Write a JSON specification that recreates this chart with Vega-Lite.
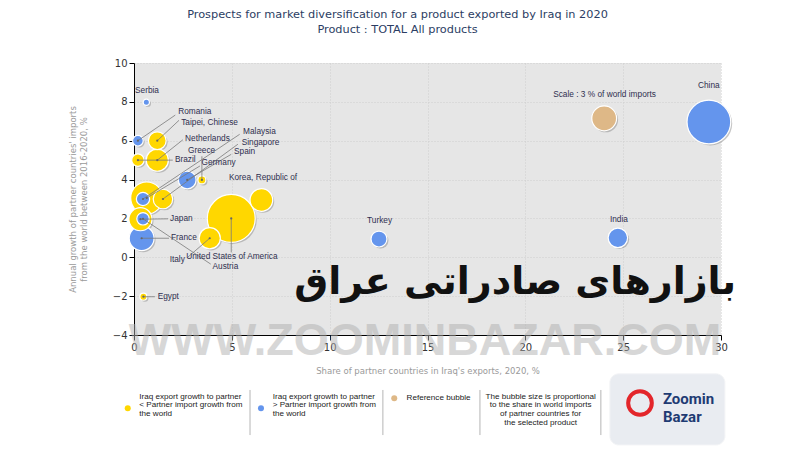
{
  "$schema": "https://vega.github.io/schema/vega-lite/v6.json",
  "autosize": {"type": "none"},
  "padding": {"left": 134, "top": 63, "right": 79, "bottom": 115},
  "width": 587,
  "height": 272,
  "background": "white",
  "title": {
    "text": "Prospects for market diversification for a product exported by Iraq in 2020",
    "subtitle": "Product : TOTAL All products",
    "anchor": "middle",
    "dx": -30,
    "offset": 23,
    "font": "DejaVu Sans",
    "fontSize": 11.3,
    "fontWeight": "normal",
    "color": "#2b3d63",
    "subtitleFont": "DejaVu Sans",
    "subtitleFontSize": 11.3,
    "subtitleColor": "#2b3d63",
    "subtitlePadding": 3
  },
  "datasets": {
    "bubbles": [
      {"name": "China", "x": 29.38, "y": 6.96, "share": 9.3, "grp": "higher", "tx": 28.77, "ty": 8.82},
      {"name": "United States of America", "x": 4.97, "y": 2.0, "share": 11.2, "grp": "lower", "lx": 4.97, "ly": 0.25, "tx": 2.62, "ty": 0.03},
      {"name": "Germany", "x": 0.65, "y": 3.05, "share": 5.0, "grp": "lower", "lx": 3.37, "ly": 4.7, "tx": 3.4, "ty": 4.84},
      {"name": "Japan", "x": 0.33, "y": 1.96, "share": 2.6, "grp": "lower", "lx": 1.74, "ly": 1.98, "tx": 1.79, "ty": 1.98},
      {"name": "France", "x": 0.39, "y": 0.98, "share": 3.0, "grp": "higher", "lx": 1.79, "ly": 0.98, "tx": 1.84, "ty": 0.98},
      {"name": "Netherlands", "x": 1.19, "y": 5.0, "share": 2.4, "grp": "lower", "lx": 2.5, "ly": 6.05, "tx": 2.56, "ty": 6.07},
      {"name": "Korea, Republic of", "x": 6.51, "y": 2.95, "share": 2.5, "grp": "lower", "tx": 4.8, "ty": 4.08},
      {"name": "Italy", "x": 3.87, "y": 0.98, "share": 2.2, "grp": "lower", "lx": 2.72, "ly": -0.02, "tx": 1.77, "ty": -0.12},
      {"name": "India", "x": 24.73, "y": 1.0, "share": 1.85, "grp": "higher", "tx": 24.27, "ty": 1.92},
      {"name": "Singapore", "x": 1.48, "y": 3.0, "share": 1.85, "grp": "lower", "lx": 5.31, "ly": 5.82, "tx": 5.45, "ty": 5.87},
      {"name": "Spain", "x": 2.72, "y": 3.98, "share": 1.53, "grp": "higher", "lx": 4.97, "ly": 5.3, "tx": 5.06, "ty": 5.4},
      {"name": "Taipei, Chinese", "x": 1.19, "y": 6.0, "share": 1.53, "grp": "lower", "lx": 2.3, "ly": 7.05, "tx": 2.36, "ty": 6.93},
      {"name": "Turkey", "x": 12.52, "y": 0.94, "share": 1.24, "grp": "higher", "tx": 11.86, "ty": 1.87},
      {"name": "Malaysia", "x": 0.46, "y": 3.0, "share": 0.86, "grp": "higher", "lx": 5.4, "ly": 6.33, "tx": 5.52, "ty": 6.46},
      {"name": "Austria", "x": 0.46, "y": 1.98, "share": 0.75, "grp": "higher", "lx": 3.92, "ly": -0.35, "tx": 3.96, "ty": -0.48},
      {"name": "Brazil", "x": 0.2, "y": 5.0, "share": 0.75, "grp": "lower", "lx": 1.98, "ly": 5.0, "tx": 2.04, "ty": 5.0},
      {"name": "Romania", "x": 0.2, "y": 6.0, "share": 0.55, "grp": "higher", "lx": 2.11, "ly": 7.32, "tx": 2.21, "ty": 7.49},
      {"name": "Greece", "x": 3.47, "y": 3.98, "share": 0.31, "grp": "lower", "lx": 3.47, "ly": 5.2, "tx": 2.71, "ty": 5.47},
      {"name": "Egypt", "x": 0.48, "y": -2.03, "share": 0.24, "grp": "lower", "lx": 1.07, "ly": -2.03, "tx": 1.16, "ty": -2.03},
      {"name": "Serbia", "x": 0.63, "y": 7.98, "share": 0.19, "grp": "higher", "tx": 0.0, "ty": 8.56},
      {"name": "Scale : 3 % of world imports", "x": 24.03, "y": 7.15, "share": 3.0, "grp": "ref", "tx": 21.37, "ty": 8.35}
    ],
    "legendsym": [
      {"grp": "lower", "x": -0.32, "y": -7.77},
      {"grp": "higher", "x": 6.49, "y": -7.77},
      {"grp": "ref", "x": 13.3, "y": -7.26}
    ],
    "legendtext": [
      {"t": "Iraq export growth to partner\n< Partner import growth from\nthe world", "x": 0.27, "y": -6.98, "pos": "left"},
      {"t": "Iraq export growth to partner\n> Partner import growth from\nthe world", "x": 7.09, "y": -6.98, "pos": "left"},
      {"t": "Reference bubble", "x": 13.93, "y": -7.03, "pos": "left"},
      {"t": "The bubble size is proportional\nto the share in world imports\nof partner countries for\nthe selected product", "x": 20.78, "y": -6.98, "pos": "center"}
    ],
    "seps": [
      {"x": 5.93, "y": -6.83, "y2": -9.15},
      {"x": 12.72, "y": -6.83, "y2": -9.15},
      {"x": 17.68, "y": -6.83, "y2": -9.15},
      {"x": 23.86, "y": -6.83, "y2": -9.15}
    ],
    "logo": [{"x": 24.32, "x2": 30.2, "y": -6.0, "y2": -9.66}],
    "ring": [{"x": 25.86, "y": -7.5}],
    "logotext": [
      {"t": "Zoomin", "x": 27.03, "y": -7.3},
      {"t": "Bazar", "x": 27.03, "y": -8.2}
    ],
    "watermark": [{"t": "WWW.ZOOMINBAZAR.COM", "x": 14.87, "y": -4.31}],
    "persian": [{"t": "بازارهای صادراتی عراق", "x": 19.48, "y": -1.32}]
  },
  "layer": [
    {
      "data": {"name": "bubbles"},
      "mark": {"type": "circle", "color": "#808080", "opacity": 0.45, "xOffset": 1.5, "yOffset": 1.5},
      "encoding": {
        "x": {"field": "x", "type": "quantitative", "scale": {"domain": [0, 30], "nice": false, "zero": false},
              "axis": {"values": [0, 5, 10, 15, 20, 25, 30], "title": "Share of partner countries in Iraq's exports, 2020, %", "titlePadding": 14, "labelPadding": 2, "labelOverlap": false}},
        "y": {"field": "y", "type": "quantitative", "scale": {"domain": [-4, 10], "nice": false, "zero": false},
              "axis": {"values": [-4, -2, 0, 2, 4, 6, 8, 10], "tickCount": 8, "title": ["Annual growth of partner countries' imports", "from the world between 2016-2020, %"], "titlePadding": 24, "labelPadding": 2, "labelOverlap": false, "labelFlush": false, "labelSeparation": -20, "labelBaseline": "middle"}},
        "size": {"field": "share", "type": "quantitative", "scale": {"domain": [0, 10], "range": [0, 2053]}, "legend": null},
        "order": {"field": "share", "sort": "descending"}
      }
    },
    {
      "data": {"name": "bubbles"},
      "mark": {"type": "circle", "opacity": 1, "stroke": "white", "strokeWidth": 1.2},
      "encoding": {
        "x": {"field": "x", "type": "quantitative"},
        "y": {"field": "y", "type": "quantitative"},
        "size": {"field": "share", "type": "quantitative", "scale": {"domain": [0, 10], "range": [0, 2053]}, "legend": null},
        "order": {"field": "share", "sort": "descending"},
        "color": {
          "field": "grp", "type": "nominal",
          "scale": {"domain": ["lower", "higher", "ref"], "range": ["#FFD700", "#6495ED", "#DEB887"]},
          "legend": null
        }
      }
    },
    {
      "data": {"name": "bubbles"},
      "transform": [{"filter": "isValid(datum.lx)"}],
      "mark": {"type": "rule", "color": "#7a7a7a", "strokeWidth": 0.8},
      "encoding": {
        "x": {"field": "x", "type": "quantitative"},
        "y": {"field": "y", "type": "quantitative"},
        "x2": {"field": "lx"},
        "y2": {"field": "ly"}
      }
    },
    {
      "data": {"name": "bubbles"},
      "transform": [{"filter": "isValid(datum.lx)"}],
      "mark": {"type": "circle", "color": "#666666", "size": 5, "opacity": 1},
      "encoding": {
        "x": {"field": "x", "type": "quantitative"},
        "y": {"field": "y", "type": "quantitative"}
      }
    },
    {
      "data": {"name": "bubbles"},
      "mark": {"type": "text", "align": "left", "baseline": "middle", "dx": 1, "font": "Liberation Sans", "fontSize": 8.3, "color": "#2f2f4f"},
      "encoding": {
        "x": {"field": "tx", "type": "quantitative"},
        "y": {"field": "ty", "type": "quantitative"},
        "text": {"field": "name"}
      }
    },
    {
      "data": {"name": "watermark"},
      "mark": {"type": "text", "align": "center", "baseline": "middle", "font": "Liberation Sans", "fontWeight": "bold", "fontSize": 45, "color": "#b0b0b0", "opacity": 0.5},
      "encoding": {
        "x": {"field": "x", "type": "quantitative"},
        "y": {"field": "y", "type": "quantitative"},
        "text": {"field": "t"}
      }
    },
    {
      "data": {"name": "legendsym"},
      "mark": {"type": "circle", "size": 36, "opacity": 1},
      "encoding": {
        "x": {"field": "x", "type": "quantitative"},
        "y": {"field": "y", "type": "quantitative"},
        "color": {"field": "grp", "type": "nominal", "legend": null}
      }
    },
    {
      "data": {"name": "legendtext"},
      "transform": [{"filter": "datum.pos == 'left'"}],
      "mark": {"type": "text", "align": "left", "baseline": "top", "lineBreak": "\n", "lineHeight": 8.6, "font": "Liberation Sans", "fontSize": 8.1, "color": "#222222"},
      "encoding": {
        "x": {"field": "x", "type": "quantitative"},
        "y": {"field": "y", "type": "quantitative"},
        "text": {"field": "t"}
      }
    },
    {
      "data": {"name": "legendtext"},
      "transform": [{"filter": "datum.pos == 'center'"}],
      "mark": {"type": "text", "align": "center", "baseline": "top", "lineBreak": "\n", "lineHeight": 8.6, "font": "Liberation Sans", "fontSize": 8.1, "color": "#222222"},
      "encoding": {
        "x": {"field": "x", "type": "quantitative"},
        "y": {"field": "y", "type": "quantitative"},
        "text": {"field": "t"}
      }
    },
    {
      "data": {"name": "seps"},
      "mark": {"type": "rule", "color": "#b5b5b5", "strokeWidth": 1},
      "encoding": {
        "x": {"field": "x", "type": "quantitative"},
        "y": {"field": "y", "type": "quantitative"},
        "y2": {"field": "y2"}
      }
    },
    {
      "data": {"name": "logo"},
      "mark": {"type": "rect", "fill": "#e9ecf1", "cornerRadius": 9, "stroke": "#f3f4f6", "strokeWidth": 1},
      "encoding": {
        "x": {"field": "x", "type": "quantitative"},
        "x2": {"field": "x2"},
        "y": {"field": "y", "type": "quantitative"},
        "y2": {"field": "y2"}
      }
    },
    {
      "data": {"name": "ring"},
      "mark": {"type": "point", "shape": "circle", "filled": false, "stroke": "#e3262b", "strokeWidth": 4, "size": 560, "opacity": 1},
      "encoding": {
        "x": {"field": "x", "type": "quantitative"},
        "y": {"field": "y", "type": "quantitative"}
      }
    },
    {
      "data": {"name": "logotext"},
      "mark": {"type": "text", "align": "left", "baseline": "middle", "font": "Roboto", "fontWeight": "bold", "fontSize": 15, "color": "#1f3b73"},
      "encoding": {
        "x": {"field": "x", "type": "quantitative"},
        "y": {"field": "y", "type": "quantitative"},
        "text": {"field": "t"}
      }
    },
    {
      "data": {"name": "persian"},
      "mark": {"type": "text", "align": "center", "baseline": "middle", "font": "DejaVu Sans", "fontWeight": "bold", "fontSize": 38, "color": "#111111"},
      "encoding": {
        "x": {"field": "x", "type": "quantitative"},
        "y": {"field": "y", "type": "quantitative"},
        "text": {"field": "t"}
      }
    }
  ],
  "config": {
    "view": {"fill": "#e6e6e6", "stroke": null},
    "axis": {
      "domainColor": "#000000",
      "tickColor": "#000000",
      "tickSize": 5,
      "labelColor": "#333333",
      "labelFont": "DejaVu Sans",
      "labelFontSize": 10,
      "labelOverlap": false,
      "labelFlush": false,
      "titleFont": "DejaVu Sans",
      "titleFontSize": 8.5,
      "titleFontWeight": "normal",
      "titleColor": "#9a9a9a",
      "gridColor": "#cfcfcf",
      "gridDash": [1, 2]
    },
    "axisY": {"labelOverlap": false},
    "axisQuantitative": {"labelOverlap": false}
  }
}
